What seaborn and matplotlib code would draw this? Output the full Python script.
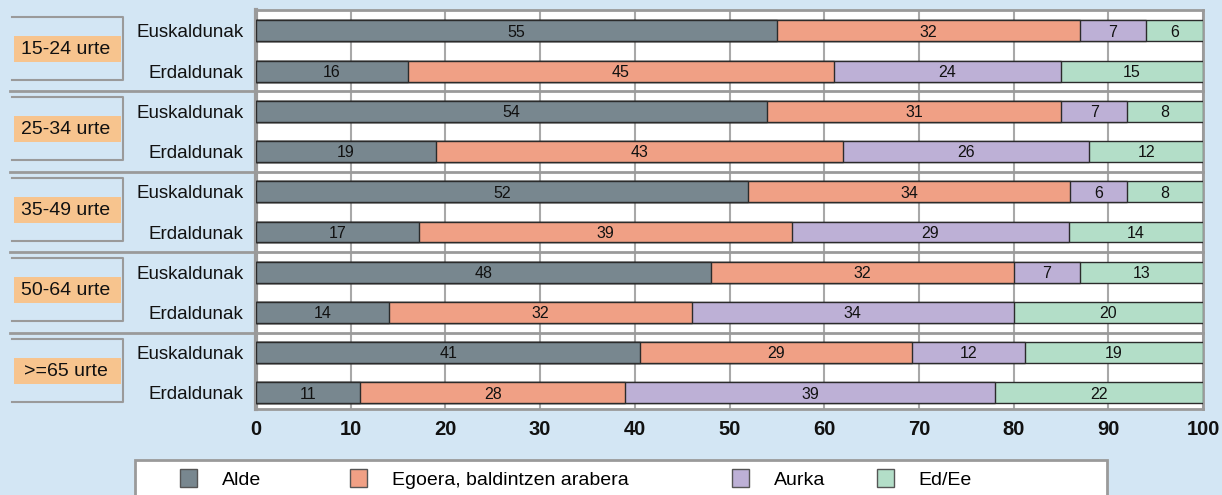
import matplotlib.pyplot as plt
import seaborn as sns
import pandas as pd
import numpy as np
from matplotlib.patches import Rectangle
from matplotlib.lines import Line2D
from matplotlib.transforms import blended_transform_factory

groups = ['15-24 urte', '25-34 urte', '35-49 urte', '50-64 urte', '>=65 urte']
rows = ['Euskaldunak', 'Erdaldunak']
categories = ['Alde', 'Egoera, baldintzen arabera', 'Aurka', 'Ed/Ee']
colors = ['#78878f', '#f0a085', '#bdb0d6', '#b3dec8']

alde = [55, 16, 54, 19, 52, 17, 48, 14, 41, 11]
egoera = [32, 45, 31, 43, 34, 39, 32, 32, 29, 28]
aurka = [7, 24, 7, 26, 6, 29, 7, 34, 12, 39]
ed_ee = [6, 15, 8, 12, 8, 14, 13, 20, 19, 22]

FONT = ['Liberation Sans', 'DejaVu Sans']

values = np.array([alde, egoera, aurka, ed_ee], dtype=float)
shares = values / values.sum(axis=0) * 100  # rounded percentages -> 100% bars
cum = shares.cumsum(axis=0)
row_ids = [f'r{i}' for i in range(len(alde))]

bg = '#d3e6f4'
fig = plt.figure(figsize=(12.22, 4.95), dpi=100, facecolor=bg)
ax = fig.add_axes([256 / 1222, 1 - 409 / 495, 947 / 1222, 399 / 495])
ax.set_facecolor('white')
plt.rcParams['font.family'] = FONT

# stacked bars: draw cumulative totals from the largest down
for k in range(len(categories) - 1, -1, -1):
    df = pd.DataFrame({'row': row_ids, 'cum': cum[k]})
    sns.barplot(data=df, x='cum', y='row', orient='h', color=colors[k],
                width=0.52, edgecolor='#2b2b2b', linewidth=1.0,
                saturation=1, ax=ax, zorder=3)

for k in range(len(categories)):
    for i, v in enumerate(values[k]):
        ax.text(cum[k][i] - shares[k][i] / 2, i + 0.03, str(int(v)), ha='center',
                va='center', fontsize=11.5, color='#111111', zorder=5, family=FONT)

ax.set_xlim(0, 100)
ax.set_ylim(9.4, -0.52)
ax.set_xticks(range(0, 101, 10))
ax.set_xticklabels([str(t) for t in range(0, 101, 10)], fontsize=14.5,
                   fontweight='bold', family=FONT, color='#111111')
ax.set_yticks(range(len(row_ids)))
ax.set_yticklabels([rows[i % 2] for i in range(len(row_ids))], fontsize=13.5,
                   family=FONT, color='#111111')
ax.tick_params(length=0)
ax.tick_params(axis='x', pad=8)
ax.tick_params(axis='y', pad=9)
ax.set_xlabel('')
ax.set_ylabel('')
ax.grid(True, axis='x', color='#a8a8a8', linewidth=1.5, zorder=0)
ax.set_axisbelow(True)
for s in ax.spines.values():
    s.set_color('#9a9a9a')
    s.set_linewidth(2)
ax.spines['left'].set_linewidth(3)

# group separators and group boxes
tr = blended_transform_factory(fig.transFigure, ax.transData)
for g in range(1, len(groups)):
    y = 2 * g - 0.5
    fig.add_artist(Line2D([10 / 1222, 1203 / 1222], [y, y], transform=tr,
                          color='#9a9a9a', linewidth=2, zorder=6))
for g, name in enumerate(groups):
    top = 2 * g - 0.35
    bot = 2 * g + 1.22
    x0, x1 = 12 / 1222, 123 / 1222
    fig.add_artist(Line2D([x0, x1, x1, x0], [top, top, bot, bot], transform=tr,
                          color='#9a9a9a', linewidth=1.5))
    fig.add_artist(Rectangle((14 / 1222, 2 * g + 0.12), 107 / 1222, 0.65,
                             transform=tr, facecolor='#f7c48e', edgecolor='none'))
    fig.text(66 / 1222, 2 * g + 0.46, name, transform=tr, ha='center',
             va='center', fontsize=14, family=FONT, color='#111111')

# legend box with one entry per category at its own position
fig.add_artist(Rectangle((135 / 1222, -0.05), 972 / 1222, 0.05 + 35 / 495,
                         transform=fig.transFigure, facecolor='white',
                         edgecolor='#9a9a9a', linewidth=2))
legend_x = [180, 350, 732, 877]
for c, lab, lx in zip(colors, categories, legend_x):
    h = Rectangle((0, 0), 1, 1, facecolor=c, edgecolor='#555555', linewidth=1)
    fig.legend([h], [lab], loc='center left',
               bbox_to_anchor=(lx / 1222, 1 - 479 / 495), frameon=False,
               borderaxespad=0, borderpad=0,
               handlelength=0.85, handleheight=1.0, handletextpad=1.3,
               prop={'family': FONT, 'size': 14})

fig.savefig('out.png', dpi=100, facecolor=bg)
